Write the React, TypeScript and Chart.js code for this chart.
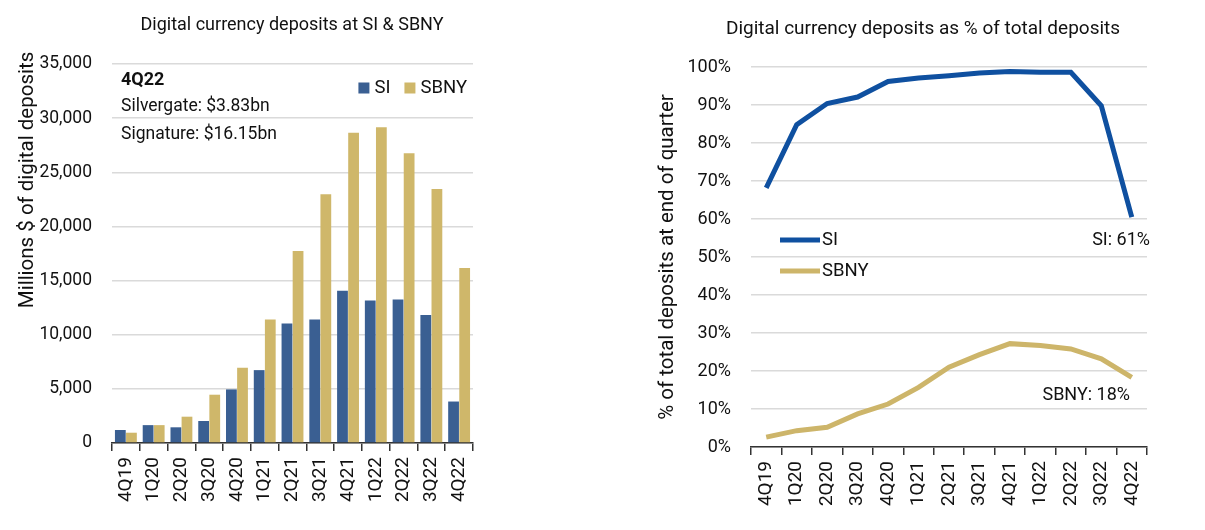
import React, { useEffect, useRef } from 'react';
import Chart from 'chart.js/auto';

const FONT = "Roboto, 'DejaVu Sans Condensed', sans-serif";

// categories
const quarters = ['4Q19', '1Q20', '2Q20', '3Q20', '4Q20', '1Q21', '2Q21', '3Q21', '4Q21', '1Q22', '2Q22', '3Q22', '4Q22'];

// digital currency deposits, $ millions
const siDeposits = [1200, 1650, 1450, 2030, 4950, 6730, 11040, 11410, 14050, 13160, 13250, 11810, 3830];
const sbnyDeposits = [950, 1650, 2430, 4460, 6950, 11400, 17740, 22970, 28660, 29150, 26750, 23460, 16150];

// digital deposits as % of total deposits
const siShare = [68.2, 84.8, 90.4, 92.1, 96.2, 97.1, 97.7, 98.4, 98.8, 98.6, 98.6, 89.8, 60.5];
const sbnyShare = [2.6, 4.3, 5.2, 8.7, 11.3, 15.7, 21.0, 24.3, 27.2, 26.7, 25.8, 23.2, 18.3];

// axis ranges
const depositAxis = { min: 0, max: 35000, step: 5000 };
const shareAxis = { min: 0, max: 100, step: 10 };

const TEXT = '#111111';
const GRID = '#dadada';
const AXIS = '#333333';

// little plugin for titles, free text and the hand-placed legends
const notesPlugin = {
  id: 'notes',
  afterDraw(chart: any, _args: any, opts: any) {
    const { ctx, chartArea } = chart;
    ctx.save();
    ctx.textBaseline = 'middle';
    ctx.fillStyle = TEXT;

    (opts.texts || []).forEach((t: any) => {
      ctx.save();
      ctx.font = `${t.bold ? 'bold ' : ''}${t.size}px ${FONT}`;
      ctx.textAlign = t.align || 'left';
      ctx.translate(t.x, t.y);
      if (t.rotate) ctx.rotate(t.rotate);
      ctx.fillText(t.text, 0, 0);
      ctx.restore();
    });

    const lg = opts.legend;
    if (lg) {
      ctx.font = `${lg.size}px ${FONT}`;
      ctx.textAlign = 'left';
      const sets = chart.data.datasets;
      if (lg.type === 'box') {
        const widths = sets.map((d: any) => lg.box + lg.gap + ctx.measureText(d.label).width);
        const total = widths.reduce((a: number, b: number) => a + b, 0) + lg.spacing * (sets.length - 1);
        let x = chartArea.right - lg.right - total;
        sets.forEach((d: any, i: number) => {
          ctx.fillStyle = d.backgroundColor;
          ctx.fillRect(x, lg.y - lg.box / 2, lg.box, lg.box);
          ctx.fillStyle = TEXT;
          ctx.fillText(d.label, x + lg.box + lg.gap, lg.y);
          x += widths[i] + lg.spacing;
        });
      } else {
        sets.forEach((d: any, i: number) => {
          const y = lg.y + i * lg.rowGap;
          ctx.strokeStyle = d.borderColor;
          ctx.lineWidth = d.borderWidth;
          ctx.beginPath();
          ctx.moveTo(lg.x, y);
          ctx.lineTo(lg.x + lg.line, y);
          ctx.stroke();
          ctx.fillStyle = TEXT;
          ctx.fillText(d.label, lg.x + lg.line + lg.gap, y);
        });
      }
    }
    ctx.restore();
  },
};

const DepositsChart: React.FC = () => {
  const chartRef = useRef<HTMLCanvasElement>(null);
  const chartInstance = useRef<Chart | null>(null);

  useEffect(() => {
    if (!chartRef.current) return;
    if (chartInstance.current) chartInstance.current.destroy();

    chartInstance.current = new Chart(chartRef.current, {
      type: 'bar',
      data: {
        labels: quarters,
        datasets: [
          { label: 'SI', data: siDeposits, backgroundColor: '#3a5f92', borderWidth: 0 },
          { label: 'SBNY', data: sbnyDeposits, backgroundColor: '#cfb76a', borderWidth: 0 },
        ],
      },
      options: {
        responsive: true,
        maintainAspectRatio: false,
        animation: false,
        layout: { padding: { left: 0, right: 112, top: 64, bottom: 0 } },
        datasets: { bar: { categoryPercentage: 0.8, barPercentage: 0.97 } },
        scales: {
          x: {
            grid: { drawOnChartArea: false, drawTicks: true, tickLength: 8, color: AXIS, lineWidth: 1.5, offset: true },
            border: { display: true, color: AXIS, width: 1.5 },
            ticks: { minRotation: 90, maxRotation: 90, autoSkip: false, padding: 6, color: TEXT, font: { family: FONT, size: 19 } },
            afterFit: (s: any) => { s.height = 87; },
          },
          y: {
            min: depositAxis.min,
            max: depositAxis.max,
            ticks: {
              stepSize: depositAxis.step,
              padding: 20,
              color: TEXT,
              font: { family: FONT, size: 17.5 },
              callback: (v: any) => Number(v).toLocaleString('en-US'),
            },
            grid: { color: GRID, lineWidth: 1.5, drawTicks: false },
            border: { display: false },
            afterFit: (s: any) => { s.width = 112; },
          },
        },
        plugins: {
          legend: { display: false },
          tooltip: { enabled: false },
          title: { display: false },
          notes: {
            texts: [
              { text: 'Digital currency deposits at SI & SBNY', x: 292, y: 25, size: 18, align: 'center' },
              { text: 'Millions $ of digital deposits', x: 28, y: 180, size: 20.5, align: 'center', rotate: -Math.PI / 2 },
              { text: '4Q22', x: 121, y: 80, size: 18, bold: true },
              { text: 'Silvergate: $3.83bn', x: 121, y: 107, size: 17.5 },
              { text: 'Signature: $16.15bn', x: 121, y: 135, size: 17.5 },
            ],
            legend: { type: 'box', size: 18.5, box: 11, gap: 5, spacing: 14, right: 6, y: 88 },
          },
        } as any,
      },
      plugins: [notesPlugin],
    });

    return () => {
      if (chartInstance.current) {
        chartInstance.current.destroy();
        chartInstance.current = null;
      }
    };
  }, []);

  return (
    <div style={{ position: 'absolute', left: 0, top: 0, width: 585, height: 530 }}>
      <canvas ref={chartRef}></canvas>
    </div>
  );
};

const ShareChart: React.FC = () => {
  const chartRef = useRef<HTMLCanvasElement>(null);
  const chartInstance = useRef<Chart | null>(null);

  useEffect(() => {
    if (!chartRef.current) return;
    if (chartInstance.current) chartInstance.current.destroy();

    chartInstance.current = new Chart(chartRef.current, {
      type: 'line',
      data: {
        labels: quarters,
        datasets: [
          { label: 'SI', data: siShare, borderColor: '#0f50a0', backgroundColor: '#0f50a0', borderWidth: 5, pointRadius: 0, tension: 0 },
          { label: 'SBNY', data: sbnyShare, borderColor: '#cdb56a', backgroundColor: '#cdb56a', borderWidth: 5, pointRadius: 0, tension: 0 },
        ],
      },
      options: {
        responsive: true,
        maintainAspectRatio: false,
        animation: false,
        layout: { padding: { left: 0, right: 59, top: 67, bottom: 0 } },
        scales: {
          x: {
            offset: true,
            grid: { drawOnChartArea: false, drawTicks: true, tickLength: 8, color: AXIS, lineWidth: 1.5, offset: true },
            border: { display: true, color: AXIS, width: 1.5 },
            ticks: { minRotation: 90, maxRotation: 90, autoSkip: false, padding: 6, color: TEXT, font: { family: FONT, size: 19 } },
            afterFit: (s: any) => { s.height = 83; },
          },
          y: {
            min: shareAxis.min,
            max: shareAxis.max,
            ticks: {
              stepSize: shareAxis.step,
              padding: 20,
              color: TEXT,
              font: { family: FONT, size: 18 },
              callback: (v: any) => `${v}%`,
            },
            grid: { color: GRID, lineWidth: 1.5, drawTicks: false },
            border: { display: false },
            afterFit: (s: any) => { s.width = 111; },
          },
        },
        plugins: {
          legend: { display: false },
          tooltip: { enabled: false },
          title: { display: false },
          notes: {
            texts: [
              { text: 'Digital currency deposits as % of total deposits', x: 283, y: 29, size: 19, align: 'center' },
              { text: '% of total deposits at end of quarter', x: 28, y: 257, size: 20.5, align: 'center', rotate: -Math.PI / 2 },
              { text: 'SI: 61%', x: 510, y: 240, size: 18, align: 'right' },
              { text: 'SBNY: 18%', x: 490, y: 395, size: 18, align: 'right' },
            ],
            legend: { type: 'line', size: 18.5, x: 140, y: 240, line: 40, gap: 2, rowGap: 31 },
          },
        } as any,
      },
      plugins: [notesPlugin],
    });

    return () => {
      if (chartInstance.current) {
        chartInstance.current.destroy();
        chartInstance.current = null;
      }
    };
  }, []);

  return (
    <div style={{ position: 'absolute', left: 640, top: 0, width: 566, height: 530 }}>
      <canvas ref={chartRef}></canvas>
    </div>
  );
};

export default function App() {
  return (
    <div style={{ position: 'fixed', left: 0, top: 0, width: 1205, height: 530, background: '#ffffff', overflow: 'hidden' }}>
      <DepositsChart />
      <ShareChart />
    </div>
  );
}
